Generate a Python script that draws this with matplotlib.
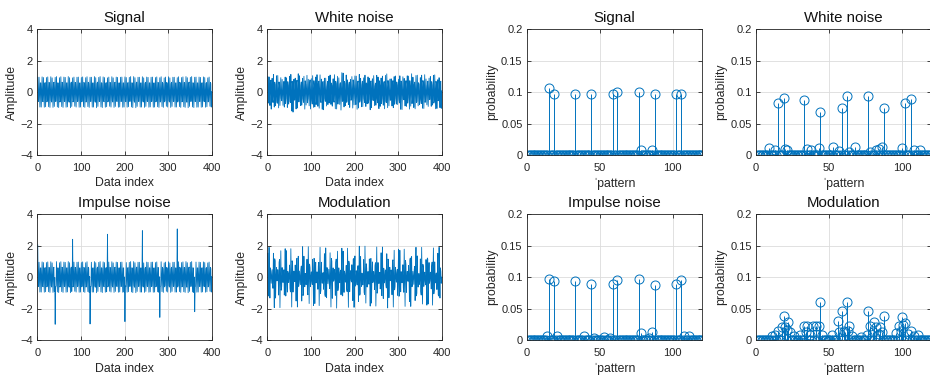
import numpy as np
import matplotlib
matplotlib.use("Agg")
import matplotlib.pyplot as plt

# ---------------- time-series data (read / estimated from the picture) ----------------
signal = [
    0.95,-0.59,-0.59,0.95,0.00,-0.95,0.59,0.59,-0.95,0.00,
    0.97,-0.56,-0.61,0.93,0.03,-0.96,0.56,0.61,-0.93,-0.02,
    0.93,-0.62,-0.57,0.97,-0.03,-0.93,0.62,0.57,-0.97,0.02,
    0.98,-0.55,-0.63,0.91,0.05,-0.97,0.54,0.63,-0.91,-0.04,
    0.94,-0.60,-0.58,0.99,-0.01,-0.94,0.60,0.58,-0.98,0.01,
    0.92,-0.63,-0.55,0.98,-0.04,-0.92,0.63,0.55,-0.97,0.04,
    0.96,-0.58,-0.60,0.94,0.01,-0.96,0.58,0.60,-0.94,-0.01,
    0.99,-0.56,-0.64,0.92,0.04,-0.99,0.55,0.64,-0.91,-0.05,
    0.91,-0.62,-0.54,0.96,-0.03,-0.90,0.62,0.54,-0.95,0.03,
    0.95,-0.60,-0.58,0.96,-0.01,-0.96,0.59,0.59,-0.95,0.01,
    0.93,-0.62,-0.57,0.97,-0.03,-0.93,0.62,0.57,-0.97,0.02,
    0.92,-0.63,-0.55,0.98,-0.04,-0.92,0.63,0.55,-0.97,0.04,
    0.95,-0.59,-0.59,0.95,0.00,-0.95,0.59,0.59,-0.95,0.00,
    0.99,-0.56,-0.64,0.92,0.04,-0.99,0.55,0.64,-0.91,-0.05,
    0.94,-0.60,-0.58,0.99,-0.01,-0.94,0.60,0.58,-0.98,0.01,
    0.97,-0.56,-0.61,0.93,0.03,-0.96,0.56,0.61,-0.93,-0.02,
    0.91,-0.62,-0.54,0.96,-0.03,-0.90,0.62,0.54,-0.95,0.03,
    0.98,-0.55,-0.63,0.91,0.05,-0.97,0.54,0.63,-0.91,-0.04,
    0.96,-0.58,-0.60,0.94,0.01,-0.96,0.58,0.60,-0.94,-0.01,
    0.95,-0.60,-0.58,0.96,-0.01,-0.96,0.59,0.59,-0.95,0.01,
    0.97,-0.56,-0.61,0.93,0.03,-0.96,0.56,0.61,-0.93,-0.02,
    0.94,-0.60,-0.58,0.99,-0.01,-0.94,0.60,0.58,-0.98,0.01,
    0.99,-0.56,-0.64,0.92,0.04,-0.99,0.55,0.64,-0.91,-0.05,
    0.95,-0.59,-0.59,0.95,0.00,-0.95,0.59,0.59,-0.95,0.00,
    0.98,-0.55,-0.63,0.91,0.05,-0.97,0.54,0.63,-0.91,-0.04,
    0.96,-0.58,-0.60,0.94,0.01,-0.96,0.58,0.60,-0.94,-0.01,
    0.95,-0.60,-0.58,0.96,-0.01,-0.96,0.59,0.59,-0.95,0.01,
    0.93,-0.62,-0.57,0.97,-0.03,-0.93,0.62,0.57,-0.97,0.02,
    0.92,-0.63,-0.55,0.98,-0.04,-0.92,0.63,0.55,-0.97,0.04,
    0.91,-0.62,-0.54,0.96,-0.03,-0.90,0.62,0.54,-0.95,0.03,
    0.98,-0.55,-0.63,0.91,0.05,-0.97,0.54,0.63,-0.91,-0.04,
    0.95,-0.59,-0.59,0.95,0.00,-0.95,0.59,0.59,-0.95,0.00,
    0.92,-0.63,-0.55,0.98,-0.04,-0.92,0.63,0.55,-0.97,0.04,
    0.93,-0.62,-0.57,0.97,-0.03,-0.93,0.62,0.57,-0.97,0.02,
    0.99,-0.56,-0.64,0.92,0.04,-0.99,0.55,0.64,-0.91,-0.05,
    0.94,-0.60,-0.58,0.99,-0.01,-0.94,0.60,0.58,-0.98,0.01,
    0.95,-0.60,-0.58,0.96,-0.01,-0.96,0.59,0.59,-0.95,0.01,
    0.96,-0.58,-0.60,0.94,0.01,-0.96,0.58,0.60,-0.94,-0.01,
    0.97,-0.56,-0.61,0.93,0.03,-0.96,0.56,0.61,-0.93,-0.02,
    0.91,-0.62,-0.54,0.96,-0.03,-0.90,0.62,0.54,-0.95,0.03,
]

white_noise_part = [
    0.05,-0.11,0.14,0.02,-0.08,0.10,-0.03,0.17,-0.13,0.06,
    -0.09,0.12,-0.05,0.20,-0.15,0.01,0.08,-0.12,0.07,-0.18,
    0.11,-0.02,-0.14,0.09,0.16,-0.07,0.03,-0.21,0.12,0.04,
    -0.06,0.15,0.08,-0.10,-0.01,0.13,-0.17,0.05,-0.04,0.19,
    0.02,-0.13,0.18,-0.08,0.11,-0.03,0.07,-0.16,0.22,-0.05,
    0.09,0.04,-0.12,0.15,-0.20,-0.28,0.06,-0.09,-0.30,0.03,
    -0.14,0.07,0.10,-0.05,0.13,-0.11,0.02,0.16,-0.07,-0.12,
    0.18,-0.06,0.03,0.12,-0.09,0.14,-0.15,0.01,0.08,-0.10,
    -0.03,0.21,-0.11,0.05,0.07,-0.18,0.10,-0.04,0.13,0.06,
    0.12,-0.08,0.16,-0.14,0.04,0.09,-0.06,0.19,-0.12,-0.02,
    -0.07,0.10,-0.19,0.08,0.14,-0.04,0.11,-0.13,0.03,0.17,
    0.04,-0.16,0.09,0.13,-0.10,0.02,-0.08,0.15,-0.05,-0.11,
    0.15,0.03,-0.07,-0.12,0.18,-0.14,0.06,0.09,-0.17,0.08,
    -0.10,0.17,0.05,-0.03,-0.13,0.11,-0.20,0.04,0.12,-0.06,
    0.07,-0.09,0.13,0.10,-0.06,0.16,-0.02,-0.15,0.09,0.14,
    -0.12,0.05,-0.03,0.18,0.08,-0.10,0.13,-0.07,-0.14,0.02,
    0.10,-0.14,0.22,-0.05,0.01,0.12,-0.09,0.06,-0.19,0.11,
    0.26,-0.04,0.07,0.30,-0.12,0.03,0.15,-0.08,0.05,-0.13,
    0.13,-0.07,0.02,-0.16,0.10,0.17,-0.11,0.04,-0.03,0.09,
    -0.15,0.08,0.11,0.03,-0.09,-0.05,0.19,-0.12,0.14,0.01,
    0.06,0.12,-0.18,0.09,0.05,-0.13,0.02,0.10,-0.08,-0.16,
    0.19,-0.04,0.07,-0.11,0.15,0.01,-0.14,0.12,0.06,-0.07,
    -0.08,0.14,-0.02,0.16,-0.19,0.08,0.04,-0.10,0.17,0.03,
    0.02,-0.11,0.15,-0.06,0.12,-0.17,0.09,0.13,-0.04,0.10,
    -0.13,0.06,0.09,0.14,-0.03,0.11,-0.16,-0.05,0.08,-0.12,
    0.11,0.16,-0.08,0.02,0.07,-0.09,0.14,-0.18,0.04,0.15,
    -0.05,-0.12,0.17,0.06,-0.14,0.13,-0.01,0.09,-0.11,0.07,
    0.14,0.03,-0.10,0.19,0.02,-0.06,0.12,-0.15,0.10,-0.09,
    -0.09,0.11,0.05,-0.13,0.16,0.04,-0.07,0.18,-0.02,0.12,
    0.08,-0.15,0.12,0.07,-0.11,0.14,0.03,-0.09,0.16,-0.04,
    -0.16,0.09,-0.06,0.13,0.10,-0.12,0.17,0.02,-0.20,0.06,
    0.03,0.15,0.10,-0.08,-0.15,0.07,-0.11,0.14,0.05,-0.10,
    0.12,-0.07,0.20,0.04,0.06,-0.16,0.10,-0.22,0.08,0.13,
    0.24,-0.11,0.18,-0.02,0.13,-0.05,-0.12,0.07,-0.09,0.02,
    0.07,-0.10,0.04,0.16,-0.07,0.12,0.05,-0.14,0.11,-0.17,
    -0.02,0.13,-0.15,0.09,0.18,-0.08,0.14,0.03,-0.06,0.10,
    0.16,-0.05,0.08,-0.12,0.02,0.15,-0.18,0.11,0.04,-0.08,
    -0.07,0.10,0.14,0.05,-0.13,0.06,0.09,-0.16,0.12,0.01,
    0.10,-0.14,0.03,0.17,0.08,-0.10,0.13,-0.05,-0.11,0.15,
    -0.12,0.07,0.11,-0.04,0.14,-0.09,0.02,0.16,-0.08,0.05,
]

impulse_index = [1, 41, 81, 121, 161, 201, 241, 281, 321, 361]
impulse_value = [2.05, -3.00, 2.41, -2.98, 2.73, -2.83, 2.96, -2.56, 3.07, -2.20]

modulation = [
    1.52,-1.12,-1.20,1.90,0.00,-1.33,0.59,0.37,-0.39,0.00,
    0.48,-0.47,-0.71,1.52,0.00,-1.94,1.17,1.04,-1.33,0.00,
    0.61,-0.24,-0.21,0.48,0.00,-1.14,0.94,1.12,-1.94,0.00,
    1.68,-0.83,-0.59,0.61,0.00,-0.34,0.29,0.47,-1.14,0.00,
    1.81,-1.20,-1.17,1.68,0.00,-0.95,0.37,0.24,-0.34,0.00,
    0.77,-0.71,-0.94,1.81,0.00,-1.90,1.04,0.83,-0.95,0.00,
    0.39,-0.21,-0.29,0.77,0.00,-1.52,1.12,1.20,-1.90,0.00,
    1.33,-0.59,-0.37,0.39,0.00,-0.48,0.47,0.71,-1.52,0.00,
    1.94,-1.17,-1.04,1.33,0.00,-0.61,0.24,0.21,-0.48,0.00,
    1.14,-0.94,-1.12,1.94,0.00,-1.68,0.83,0.59,-0.61,0.00,
    0.34,-0.29,-0.47,1.14,0.00,-1.81,1.20,1.17,-1.68,0.00,
    0.95,-0.37,-0.24,0.34,0.00,-0.77,0.71,0.94,-1.81,0.00,
    1.90,-1.04,-0.83,0.95,0.00,-0.39,0.21,0.29,-0.77,0.00,
    1.49,-1.09,-1.23,1.86,0.02,-1.31,0.61,0.35,-0.41,0.01,
    0.50,-0.45,-0.73,1.55,-0.01,-1.90,1.19,1.02,-1.35,0.01,
    0.59,-0.26,-0.19,0.50,0.01,-1.16,0.92,1.15,-1.97,-0.01,
    1.65,-0.85,-0.57,0.59,0.01,-0.36,0.31,0.45,-1.12,0.01,
    1.84,-1.18,-1.19,1.65,-0.01,-0.97,0.39,0.22,-0.32,-0.01,
    0.75,-0.73,-0.92,1.84,0.01,-1.92,1.02,0.85,-0.93,0.01,
    0.41,-0.19,-0.31,0.79,-0.01,-1.49,1.15,1.18,-1.92,0.01,
    1.35,-0.57,-0.39,0.41,0.01,-0.50,0.45,0.73,-1.55,-0.01,
    1.97,-1.15,-1.06,1.31,0.01,-0.59,0.26,0.19,-0.50,0.01,
    1.12,-0.96,-1.10,1.97,-0.01,-1.65,0.85,0.57,-0.63,0.01,
    0.36,-0.31,-0.45,1.16,0.01,-1.84,1.18,1.19,-1.65,-0.01,
    0.97,-0.35,-0.26,0.36,0.01,-0.79,0.73,0.92,-1.84,0.01,
    1.92,-1.02,-0.85,0.93,-0.01,-0.41,0.19,0.31,-0.75,0.01,
    1.55,-1.14,-1.18,1.92,-0.01,-1.36,0.57,0.39,-0.37,-0.01,
    0.46,-0.49,-0.69,1.49,0.01,-1.96,1.15,1.06,-1.31,-0.01,
    0.63,-0.22,-0.23,0.46,-0.01,-1.12,0.96,1.10,-1.90,0.01,
    1.71,-0.81,-0.61,0.63,-0.01,-0.32,0.27,0.49,-1.16,-0.01,
    1.78,-1.22,-1.15,1.71,0.01,-0.93,0.35,0.26,-0.36,0.01,
    0.79,-0.69,-0.96,1.78,-0.01,-1.86,1.06,0.81,-0.97,-0.01,
    0.37,-0.23,-0.27,0.75,0.01,-1.55,1.10,1.22,-1.86,-0.01,
    1.31,-0.61,-0.35,0.37,-0.01,-0.46,0.49,0.69,-1.49,0.01,
    1.90,-1.19,-1.02,1.35,-0.01,-0.63,0.22,0.23,-0.46,-0.01,
    1.16,-0.92,-1.14,1.90,0.01,-1.71,0.81,0.61,-0.59,-0.01,
    0.32,-0.27,-0.49,1.12,-0.01,-1.78,1.22,1.15,-1.71,0.01,
    0.93,-0.39,-0.22,0.32,-0.01,-0.75,0.69,0.96,-1.78,-0.01,
    1.86,-1.06,-0.81,0.97,0.01,-0.37,0.23,0.27,-0.79,-0.01,
    1.52,-1.12,-1.20,1.90,0.00,-1.33,0.59,0.37,-0.39,0.00,
]

# ---------------- ordinal-pattern probability data (pattern number -> probability) ----------------
signal_pattern = [15, 19, 33, 44, 59, 62, 77, 78, 86, 88, 102, 106]
signal_prob = [0.107, 0.097, 0.097, 0.097, 0.097, 0.100, 0.100, 0.008, 0.008, 0.097, 0.097, 0.097]

white_pattern = [9, 13, 15, 19, 20, 21, 33, 35, 38, 43, 44, 53, 57, 59, 62, 64, 68,
                 77, 78, 82, 84, 86, 88, 100, 102, 106, 108, 112]
white_prob = [0.011, 0.008, 0.082, 0.090, 0.010, 0.008, 0.087, 0.010, 0.008, 0.011, 0.069,
              0.013, 0.006, 0.074, 0.094, 0.005, 0.013, 0.094, 0.005, 0.008, 0.009, 0.013,
              0.074, 0.011, 0.082, 0.089, 0.008, 0.008]

impulse_pattern = [14, 15, 19, 21, 33, 39, 44, 46, 53, 57, 59, 62, 77, 78, 84, 86, 88,
                   102, 106, 108, 111]
impulse_prob = [0.006, 0.097, 0.094, 0.006, 0.094, 0.006, 0.089, 0.003, 0.005, 0.003, 0.089,
                0.095, 0.097, 0.011, 0.003, 0.013, 0.087, 0.089, 0.095, 0.006, 0.006]

modulation_pattern = [11, 13, 15, 18, 19, 20, 21, 22, 23, 26, 30, 33, 34, 35, 37, 39, 41, 43,
                      44, 45, 52, 56, 57, 59, 60, 61, 62, 63, 64, 66, 72, 76, 77, 78, 80, 81,
                      82, 84, 85, 86, 88, 96, 98, 99, 100, 101, 102, 104, 106, 108, 111]
modulation_prob = [0.007, 0.008, 0.015, 0.020, 0.038, 0.020, 0.016, 0.028, 0.012, 0.006, 0.008,
                   0.023, 0.012, 0.023, 0.008, 0.023, 0.023, 0.023, 0.061, 0.008, 0.008, 0.030,
                   0.012, 0.046, 0.015, 0.013, 0.061, 0.015, 0.023, 0.006, 0.005, 0.008, 0.046,
                   0.023, 0.012, 0.028, 0.020, 0.010, 0.020, 0.012, 0.038, 0.011, 0.023, 0.015,
                   0.036, 0.024, 0.027, 0.010, 0.015, 0.006, 0.008]

titles = ["Signal", "White noise", "Impulse noise", "Modulation"]
n_patterns = 120

# ---------------- build series ----------------
sig = np.array(signal)
white = sig + np.array(white_noise_part)
impulse = sig.copy()
impulse[np.array(impulse_index) - 1] = impulse_value
modu = np.array(modulation)
series = [sig, white, impulse, modu]
idx = np.arange(1, len(sig) + 1)


def dist(pats, probs):
    d = np.zeros(n_patterns)
    d[np.array(pats) - 1] = probs
    return d


dists = [dist(signal_pattern, signal_prob), dist(white_pattern, white_prob),
         dist(impulse_pattern, impulse_prob), dist(modulation_pattern, modulation_prob)]

# ---------------- style ----------------
plt.rcParams["font.family"] = ["Liberation Sans", "DejaVu Sans"]
BLUE = "#0072BD"
AX = "#262626"

fig = plt.figure(figsize=(9.3, 3.75), dpi=100)
row_bottom = [0.58667, 0.09333]
row_h = 0.3352
ts_left = [0.04011, 0.28742]
st_left = [0.56634, 0.81290]
ts_w = 0.18753
st_w = 0.18839


def style(ax):
    ax.grid(True, color="#dcdcdc", linewidth=0.6)
    ax.set_axisbelow(True)
    for s in ax.spines.values():
        s.set_color(AX)
        s.set_linewidth(0.6)
    ax.tick_params(direction="in", length=3, width=0.6, colors=AX, labelsize=8,
                   top=True, right=True)
    ax.tick_params(axis="x", pad=5.5)
    ax.tick_params(axis="y", pad=3)


for k in range(4):
    r, c = divmod(k, 2)
    # time series
    ax = fig.add_axes([ts_left[c], row_bottom[r], ts_w, row_h])
    ax.plot(idx, series[k], color=BLUE, linewidth=0.6)
    ax.set_xlim(0, 400)
    ax.set_ylim(-4, 4)
    ax.set_xticks([0, 100, 200, 300, 400])
    ax.set_yticks([-4, -2, 0, 2, 4])
    style(ax)
    ax.set_title(titles[k], fontsize=10.8, color="#111111", pad=5)
    ax.set_xlabel("Data index", fontsize=8.8, color=AX, labelpad=3.5)
    ax.set_ylabel("Amplitude", fontsize=8.8, color=AX, labelpad=2)

    # pattern probabilities
    ax2 = fig.add_axes([st_left[c], row_bottom[r], st_w, row_h])
    px = np.arange(1, n_patterns + 1)
    ml, sl, bl = ax2.stem(px, dists[k], linefmt="-", markerfmt="o", basefmt=" ")
    sl.set_color(BLUE)
    sl.set_linewidth(0.7)
    ml.set_markerfacecolor("none")
    ml.set_markeredgecolor(BLUE)
    ml.set_markersize(6.5)
    ml.set_markeredgewidth(0.7)
    ax2.axhline(0, color="black", linewidth=0.8, zorder=1.5)
    ax2.set_xlim(0, 120)
    ax2.set_ylim(0, 0.2)
    ax2.set_xticks([0, 50, 100])
    ax2.set_yticks([0, 0.05, 0.1, 0.15, 0.2])
    ax2.set_yticklabels(["0", "0.05", "0.1", "0.15", "0.2"])
    style(ax2)
    ax2.set_title(titles[k], fontsize=10.8, color="#111111", pad=5)
    ax2.set_xlabel("\u02c8pattern", fontsize=8.8, color=AX, labelpad=3.5)
    ax2.set_ylabel("probability", fontsize=8.8, color=AX, labelpad=2)

fig.savefig("out.png", dpi=100)
